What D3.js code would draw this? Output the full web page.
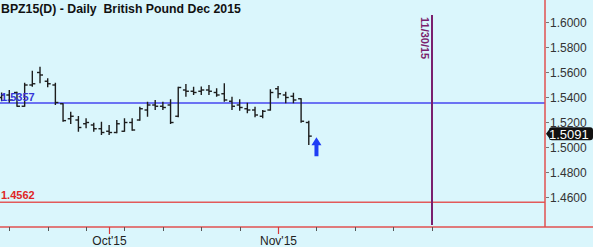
<!DOCTYPE html>
<html>
<head>
<meta charset="utf-8">
<script src="https://cdn.jsdelivr.net/npm/d3@7"></script>
<style>
  html, body { margin: 0; padding: 0; background: #daf6fc; }
  svg { display: block; font-family: Arial, "Liberation Sans", sans-serif; }
</style>
</head>
<body>
<svg id="chart"></svg>
<script>
const width = 593;
const height = 247;

// Daily bars, BPZ15 (open, high, low, close)
const dates = ["2015-09-11", "2015-09-14", "2015-09-15", "2015-09-16", "2015-09-17", "2015-09-18",
    "2015-09-21", "2015-09-22", "2015-09-23", "2015-09-24", "2015-09-25",
    "2015-09-28", "2015-09-29", "2015-09-30", "2015-10-01", "2015-10-02",
    "2015-10-05", "2015-10-06", "2015-10-07", "2015-10-08", "2015-10-09",
    "2015-10-12", "2015-10-13", "2015-10-14", "2015-10-15", "2015-10-16",
    "2015-10-19", "2015-10-20", "2015-10-21", "2015-10-22", "2015-10-23",
    "2015-10-26", "2015-10-27", "2015-10-28", "2015-10-29", "2015-10-30",
    "2015-11-02", "2015-11-03", "2015-11-04", "2015-11-05", "2015-11-06"];
const opens = [1.5400, 1.5420, 1.5440, 1.5330, 1.5500, 1.5600,
    1.5530, 1.5500, 1.5350, 1.5230, 1.5220,
    1.5190, 1.5180, 1.5150, 1.5130, 1.5120,
    1.5130, 1.5200, 1.5220, 1.5300, 1.5340,
    1.5330, 1.5340, 1.5250, 1.5460, 1.5450,
    1.5450, 1.5460, 1.5440, 1.5430, 1.5370,
    1.5340, 1.5310, 1.5300, 1.5250, 1.5300,
    1.5470, 1.5420, 1.5410, 1.5390, 1.5200];
const highs = [1.5440, 1.5460, 1.5446, 1.5518, 1.5614, 1.5646,
    1.5554, 1.5518, 1.5354, 1.5286, 1.5252,
    1.5234, 1.5198, 1.5206, 1.5180, 1.5220,
    1.5234, 1.5234, 1.5326, 1.5366, 1.5380,
    1.5366, 1.5386, 1.5486, 1.5508, 1.5486,
    1.5488, 1.5500, 1.5474, 1.5514, 1.5406,
    1.5386, 1.5358, 1.5326, 1.5300, 1.5466,
    1.5492, 1.5446, 1.5438, 1.5394, 1.5214];
const lows = [1.5370, 1.5358, 1.5326, 1.5326, 1.5486, 1.5514,
    1.5482, 1.5340, 1.5206, 1.5188, 1.5126,
    1.5154, 1.5126, 1.5100, 1.5100, 1.5115,
    1.5126, 1.5134, 1.5214, 1.5246, 1.5300,
    1.5300, 1.5188, 1.5242, 1.5406, 1.5420,
    1.5420, 1.5420, 1.5406, 1.5366, 1.5300,
    1.5294, 1.5274, 1.5242, 1.5234, 1.5295,
    1.5394, 1.5354, 1.5354, 1.5198, 1.5020];
const closes = [1.5420, 1.5380, 1.5330, 1.5500, 1.5510, 1.5580,
    1.5510, 1.5360, 1.5215, 1.5250, 1.5160,
    1.5200, 1.5150, 1.5120, 1.5120, 1.5190,
    1.5200, 1.5140, 1.5310, 1.5340, 1.5330,
    1.5320, 1.5200, 1.5480, 1.5450, 1.5440,
    1.5460, 1.5450, 1.5420, 1.5380, 1.5330,
    1.5320, 1.5300, 1.5260, 1.5290, 1.5440,
    1.5430, 1.5400, 1.5380, 1.5210, 1.5091];

const yTicks = [1.46, 1.48, 1.50, 1.52, 1.54, 1.56, 1.58, 1.60];
const weekTicks = ["2015-09-14", "2015-09-21", "2015-09-28", "2015-10-05", "2015-10-12",
    "2015-10-19", "2015-10-26", "2015-11-02", "2015-11-09", "2015-11-16", "2015-11-23", "2015-11-30"];
const monthTicks = [["2015-10-01", "Oct'15"], ["2015-11-02", "Nov'15"]];

const title = "BPZ15(D) - Daily  British Pound Dec 2015";
const blueLevel = 1.5357;
const redLevel = 1.4562;
const markerDate = "2015-11-30";
const arrowDate = "2015-11-09";
const lastPrice = 1.5091;

// trading-day index (weekdays) counted from the first bar
const parse = d3.timeParse("%Y-%m-%d");
const day0 = parse(dates[0]);
function dayIndex(s) {
    const days = d3.timeDay.range(day0, parse(s)).filter(d => d.getDay() !== 0 && d.getDay() !== 6);
    return days.length;
}

const axisX = 545, axisY = 227;
const x = d3.scaleLinear().domain([-0.21, 70.76]).range([0, axisX]);
const y = d3.scaleLinear().domain([1.46, 1.60]).range([197.5, 22.5]);

const svg = d3.select("#chart").attr("width", width).attr("height", height);

svg.append("rect").attr("width", width).attr("height", height).attr("fill", "#daf6fc");

// title
svg.append("text")
    .attr("x", 1).attr("y", 13)
    .style("font-size", "12.3px").style("font-weight", "bold")
    .style("white-space", "pre")
    .attr("fill", "#111")
    .text(title);

// level lines
svg.append("line")
    .attr("x1", 0).attr("x2", axisX)
    .attr("y1", y(blueLevel)).attr("y2", y(blueLevel))
    .attr("stroke", "#4646f0").attr("stroke-width", 1.5);

svg.append("line")
    .attr("x1", 0).attr("x2", axisX)
    .attr("y1", y(redLevel)).attr("y2", y(redLevel))
    .attr("stroke", "#e25a5a").attr("stroke-width", 1.5);

// date marker
const mx = Math.round(x(dayIndex(markerDate)));
svg.append("line")
    .attr("x1", mx).attr("x2", mx)
    .attr("y1", 15).attr("y2", axisY - 2)
    .attr("stroke", "#7a1f6e").attr("stroke-width", 2);

svg.append("text")
    .attr("transform", `translate(${mx - 11},17) rotate(90)`)
    .style("font-size", "11px").style("font-weight", "bold")
    .attr("fill", "#7a1f6e")
    .text("11/30/15");

// OHLC bars
const bars = dates.map((d, i) => ({ i: dayIndex(d), o: opens[i], h: highs[i], l: lows[i], c: closes[i] }));
const g = svg.append("g").attr("stroke", "#1c1c1c").attr("stroke-width", 1.4);
bars.forEach(b => {
    const cx = x(b.i);
    g.append("line").attr("x1", cx).attr("x2", cx).attr("y1", y(b.h)).attr("y2", y(b.l));
    g.append("line").attr("x1", cx - 3).attr("x2", cx).attr("y1", y(b.o)).attr("y2", y(b.o));
    g.append("line").attr("x1", cx).attr("x2", cx + 3).attr("y1", y(b.c)).attr("y2", y(b.c));
});

// level labels (drawn over bars)
svg.append("text")
    .attr("x", 1).attr("y", y(blueLevel) - 2)
    .style("font-size", "11px").style("font-weight", "bold")
    .attr("fill", "#3535d8")
    .text(blueLevel.toFixed(4));

svg.append("text")
    .attr("x", 1).attr("y", y(redLevel) - 3)
    .style("font-size", "11px").style("font-weight", "bold")
    .attr("fill", "#e02626")
    .text(redLevel.toFixed(4));

// blue up arrow under the last bar
const ax = x(dayIndex(arrowDate));
const at = y(lastPrice) + 1;
svg.append("path")
    .attr("d", `M${ax},${at} L${ax + 5},${at + 8} L${ax + 2},${at + 8} L${ax + 2},${at + 19} L${ax - 2},${at + 19} L${ax - 2},${at + 8} L${ax - 5},${at + 8} Z`)
    .attr("fill", "#1f3df5");

// right axis
svg.append("line")
    .attr("x1", axisX).attr("x2", axisX).attr("y1", 0).attr("y2", axisY)
    .attr("stroke", "#e05050").attr("stroke-width", 1.5);

const yAxis = svg.append("g");
yTicks.forEach(t => {
    yAxis.append("line")
        .attr("x1", axisX + 1).attr("x2", axisX + 4)
        .attr("y1", y(t)).attr("y2", y(t))
        .attr("stroke", "#777").attr("stroke-width", 1);
    yAxis.append("text")
        .attr("x", axisX + 5).attr("y", y(t) + 4.5)
        .style("font-size", "12px")
        .attr("fill", "#333")
        .text(t.toFixed(4));
});

// last price tag
const ly = y(lastPrice) - 2.5;
svg.append("path")
    .attr("d", `M${axisX + 1},${ly} L${axisX + 4},${ly - 4} L${axisX + 4},${ly - 4} Q${axisX + 4},${ly - 6.5} ${axisX + 7},${ly - 6.5} L${width - 3},${ly - 6.5} Q${width},${ly - 6.5} ${width},${ly - 3.5} L${width},${ly + 3.5} Q${width},${ly + 6.5} ${width - 3},${ly + 6.5} L${axisX + 7},${ly + 6.5} Q${axisX + 4},${ly + 6.5} ${axisX + 4},${ly + 4} Z`)
    .attr("fill", "#111");
svg.append("text")
    .attr("x", axisX + 4).attr("y", ly + 5)
    .style("font-size", "13px")
    .attr("fill", "#fff")
    .text(lastPrice.toFixed(4));

// bottom axis
svg.append("line")
    .attr("x1", 0).attr("x2", width).attr("y1", axisY).attr("y2", axisY)
    .attr("stroke", "#e05050").attr("stroke-width", 1.5);

weekTicks.forEach(t => {
    const tx = Math.round(x(dayIndex(t))) + 0.5;
    svg.append("line")
        .attr("x1", tx).attr("x2", tx).attr("y1", axisY).attr("y2", axisY + 4)
        .attr("stroke", "#555").attr("stroke-width", 1);
});

monthTicks.forEach(([t, label]) => {
    const tx = Math.round(x(dayIndex(t))) + 0.5;
    svg.append("line")
        .attr("x1", tx).attr("x2", tx).attr("y1", axisY).attr("y2", axisY + 7)
        .attr("stroke", "#d83a3a").attr("stroke-width", 1.2);
    svg.append("text")
        .attr("x", tx).attr("y", 245)
        .attr("text-anchor", "middle")
        .style("font-size", "12px")
        .attr("fill", "#222")
        .text(label);
});
</script>
</body>
</html>
